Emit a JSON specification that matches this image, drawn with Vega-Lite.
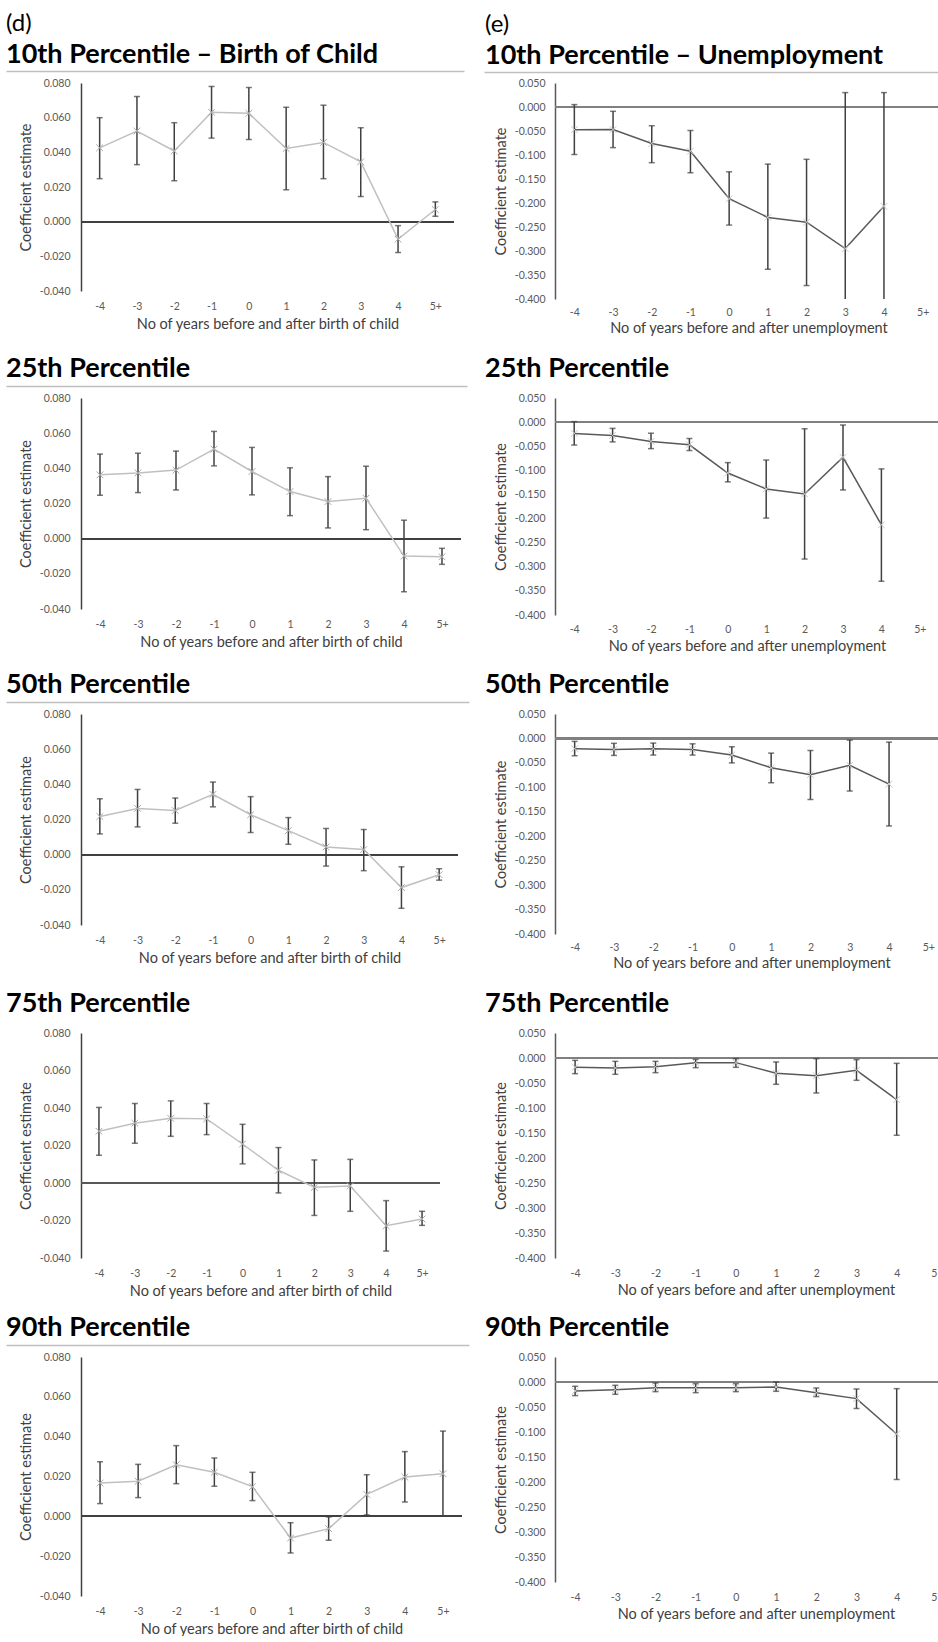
{
  "$schema": "https://vega.github.io/schema/vega-lite/v6.json",
  "background": "white",
  "padding": {"left": 6, "top": 12, "right": -22, "bottom": 0},
  "datasets": {
    "L1": [
      {"t": "-4", "est": 0.0426, "lo": 0.0248, "hi": 0.0600},
      {"t": "-3", "est": 0.0523, "lo": 0.0329, "hi": 0.0722},
      {"t": "-2", "est": 0.0408, "lo": 0.0236, "hi": 0.0571},
      {"t": "-1", "est": 0.0631, "lo": 0.0482, "hi": 0.0780},
      {"t": "0", "est": 0.0625, "lo": 0.0474, "hi": 0.0774},
      {"t": "1", "est": 0.0422, "lo": 0.0184, "hi": 0.0660},
      {"t": "2", "est": 0.0457, "lo": 0.0248, "hi": 0.0672},
      {"t": "3", "est": 0.0345, "lo": 0.0145, "hi": 0.0542},
      {"t": "4", "est": -0.0101, "lo": -0.0178, "hi": -0.0023},
      {"t": "5+", "est": 0.0070, "lo": 0.0031, "hi": 0.0114}
    ],
    "R1": [
      {"t": "-4", "est": -0.0472, "lo": -0.099, "hi": 0.005},
      {"t": "-3", "est": -0.047, "lo": -0.0846, "hi": -0.009},
      {"t": "-2", "est": -0.076, "lo": -0.116, "hi": -0.039},
      {"t": "-1", "est": -0.092, "lo": -0.137, "hi": -0.049},
      {"t": "0", "est": -0.191, "lo": -0.246, "hi": -0.135},
      {"t": "1", "est": -0.230, "lo": -0.338, "hi": -0.119},
      {"t": "2", "est": -0.240, "lo": -0.372, "hi": -0.109},
      {"t": "3", "est": -0.295, "lo": -0.42, "hi": 0.030},
      {"t": "4", "est": -0.207, "lo": -0.42, "hi": 0.030}
    ],
    "L2": [
      {"t": "-4", "est": 0.0363, "lo": 0.0247, "hi": 0.0481},
      {"t": "-3", "est": 0.0374, "lo": 0.0262, "hi": 0.0486},
      {"t": "-2", "est": 0.0390, "lo": 0.0277, "hi": 0.0498},
      {"t": "-1", "est": 0.0509, "lo": 0.0414, "hi": 0.0610},
      {"t": "0", "est": 0.0382, "lo": 0.0249, "hi": 0.0519},
      {"t": "1", "est": 0.0268, "lo": 0.0131, "hi": 0.0403},
      {"t": "2", "est": 0.0211, "lo": 0.0061, "hi": 0.0353},
      {"t": "3", "est": 0.0230, "lo": 0.0051, "hi": 0.0412},
      {"t": "4", "est": -0.0099, "lo": -0.0302, "hi": 0.0105},
      {"t": "5+", "est": -0.0103, "lo": -0.0146, "hi": -0.0055}
    ],
    "R2": [
      {"t": "-4", "est": -0.0234, "lo": -0.0476, "hi": 0.001},
      {"t": "-3", "est": -0.0276, "lo": -0.041, "hi": -0.013},
      {"t": "-2", "est": -0.040, "lo": -0.055, "hi": -0.023},
      {"t": "-1", "est": -0.047, "lo": -0.059, "hi": -0.034},
      {"t": "0", "est": -0.1055, "lo": -0.124, "hi": -0.084},
      {"t": "1", "est": -0.1386, "lo": -0.199, "hi": -0.0786},
      {"t": "2", "est": -0.149, "lo": -0.284, "hi": -0.0138},
      {"t": "3", "est": -0.073, "lo": -0.1407, "hi": -0.006},
      {"t": "4", "est": -0.213, "lo": -0.330, "hi": -0.097}
    ],
    "L3": [
      {"t": "-4", "est": 0.0217, "lo": 0.0118, "hi": 0.0318},
      {"t": "-3", "est": 0.0263, "lo": 0.0158, "hi": 0.0371},
      {"t": "-2", "est": 0.0251, "lo": 0.0179, "hi": 0.0322},
      {"t": "-1", "est": 0.0343, "lo": 0.0272, "hi": 0.0413},
      {"t": "0", "est": 0.0227, "lo": 0.0126, "hi": 0.0330},
      {"t": "1", "est": 0.0137, "lo": 0.0059, "hi": 0.0211},
      {"t": "2", "est": 0.0044, "lo": -0.0065, "hi": 0.0149},
      {"t": "3", "est": 0.0029, "lo": -0.0091, "hi": 0.0143},
      {"t": "4", "est": -0.0187, "lo": -0.0305, "hi": -0.0069},
      {"t": "5+", "est": -0.0114, "lo": -0.0145, "hi": -0.0080}
    ],
    "R3": [
      {"t": "-4", "est": -0.021, "lo": -0.0354, "hi": -0.006},
      {"t": "-3", "est": -0.0225, "lo": -0.0347, "hi": -0.010},
      {"t": "-2", "est": -0.021, "lo": -0.034, "hi": -0.0095},
      {"t": "-1", "est": -0.0225, "lo": -0.034, "hi": -0.011},
      {"t": "0", "est": -0.034, "lo": -0.050, "hi": -0.017},
      {"t": "1", "est": -0.060, "lo": -0.0906, "hi": -0.030},
      {"t": "2", "est": -0.074, "lo": -0.1247, "hi": -0.0245},
      {"t": "3", "est": -0.055, "lo": -0.1076, "hi": -0.0034},
      {"t": "4", "est": -0.0933, "lo": -0.179, "hi": -0.0075}
    ],
    "L4": [
      {"t": "-4", "est": 0.0276, "lo": 0.0148, "hi": 0.0403},
      {"t": "-3", "est": 0.0319, "lo": 0.0212, "hi": 0.0424},
      {"t": "-2", "est": 0.0345, "lo": 0.0249, "hi": 0.0438},
      {"t": "-1", "est": 0.0342, "lo": 0.0258, "hi": 0.0424},
      {"t": "0", "est": 0.0208, "lo": 0.0102, "hi": 0.0313},
      {"t": "1", "est": 0.0068, "lo": -0.0053, "hi": 0.0189},
      {"t": "2", "est": -0.0023, "lo": -0.0173, "hi": 0.0123},
      {"t": "3", "est": -0.0016, "lo": -0.0151, "hi": 0.0126},
      {"t": "4", "est": -0.0228, "lo": -0.0363, "hi": -0.0094},
      {"t": "5+", "est": -0.0192, "lo": -0.0226, "hi": -0.0151}
    ],
    "R4": [
      {"t": "-4", "est": -0.0186, "lo": -0.0313, "hi": -0.0047},
      {"t": "-3", "est": -0.020, "lo": -0.0326, "hi": -0.0067},
      {"t": "-2", "est": -0.0173, "lo": -0.0293, "hi": -0.0067},
      {"t": "-1", "est": -0.0093, "lo": -0.0193, "hi": -0.0027},
      {"t": "0", "est": -0.0093, "lo": -0.0186, "hi": -0.0013},
      {"t": "1", "est": -0.0306, "lo": -0.0526, "hi": -0.008},
      {"t": "2", "est": -0.0353, "lo": -0.070, "hi": -0.0013},
      {"t": "3", "est": -0.0246, "lo": -0.0446, "hi": -0.0033},
      {"t": "4", "est": -0.0832, "lo": -0.1545, "hi": -0.0107}
    ],
    "L5": [
      {"t": "-4", "est": 0.0167, "lo": 0.0064, "hi": 0.0274},
      {"t": "-3", "est": 0.0176, "lo": 0.0094, "hi": 0.0261},
      {"t": "-2", "est": 0.0259, "lo": 0.0164, "hi": 0.0355},
      {"t": "-1", "est": 0.0221, "lo": 0.0151, "hi": 0.0293},
      {"t": "0", "est": 0.0149, "lo": 0.0079, "hi": 0.0221},
      {"t": "1", "est": -0.0109, "lo": -0.0184, "hi": -0.0032},
      {"t": "2", "est": -0.0062, "lo": -0.0120, "hi": -0.0003},
      {"t": "3", "est": 0.0110, "lo": 0.0007, "hi": 0.0209},
      {"t": "4", "est": 0.0197, "lo": 0.0072, "hi": 0.0325},
      {"t": "5+", "est": 0.0214, "lo": 0.0003, "hi": 0.0428}
    ],
    "R5": [
      {"t": "-4", "est": -0.018, "lo": -0.0272, "hi": -0.0086},
      {"t": "-3", "est": -0.0153, "lo": -0.0246, "hi": -0.0066},
      {"t": "-2", "est": -0.0113, "lo": -0.0193, "hi": -0.002},
      {"t": "-1", "est": -0.0113, "lo": -0.0213, "hi": -0.0033},
      {"t": "0", "est": -0.0113, "lo": -0.0193, "hi": -0.0033},
      {"t": "1", "est": -0.010, "lo": -0.0186, "hi": 0.0},
      {"t": "2", "est": -0.0213, "lo": -0.0292, "hi": -0.012},
      {"t": "3", "est": -0.0332, "lo": -0.053, "hi": -0.014},
      {"t": "4", "est": -0.104, "lo": -0.195, "hi": -0.0133}
    ]
  },
  "columns": 2,
  "bounds": "flush",
  "align": "each",
  "spacing": {"row": 99, "column": 93},
  "concat": [
    {
      "width": 373, "height": 208,
      "title": {"text": "(d)", "subtitle": "10th Percentile – Birth of Child", "fontSize": 24, "fontWeight": "normal", "subtitleFont": "Lato", "subtitleFontSize": 27, "subtitleFontWeight": "bold", "subtitleColor": "#000000", "subtitlePadding": 6, "dx": -75, "offset": 3},
      "data": {"name": "L1"},
      "resolve": {"scale": {"x": "independent"}, "axis": {"x": "independent"}},
      "layer": [
        {"layer": [
          {"mark": {"type": "rule", "color": "#404040", "strokeWidth": 1.5}, "encoding": {"y": {"datum": 0, "type": "quantitative", "scale": {"domain": [-0.04, 0.08], "nice": false, "zero": false}, "axis": {"values": [-0.04, -0.02, 0, 0.02, 0.04, 0.06, 0.08], "format": ".3f", "labelExpr": "replace(datum.label, '\u2212', '-')", "title": "Coefficient estimate", "domain": true, "domainColor": "#404040", "domainWidth": 1.5, "labelPadding": 11, "titlePadding": 6}}}},
          {"mark": {"type": "rule", "color": "#404040", "strokeWidth": 1.5, "clip": true}, "encoding": {"x": {"field": "t", "type": "ordinal", "sort": null, "scale": {"type": "point", "padding": 0.5, "domain": ["-4", "-3", "-2", "-1", "0", "1", "2", "3", "4", "5+"]}, "axis": {"title": "No of years before and after birth of child", "domain": false, "ticks": false, "labelPadding": 10, "titlePadding": 6, "labelAngle": 0}}, "y": {"field": "lo", "type": "quantitative", "scale": {"domain": [-0.04, 0.08], "nice": false, "zero": false}, "axis": {"values": [-0.04, -0.02, 0, 0.02, 0.04, 0.06, 0.08], "format": ".3f", "labelExpr": "replace(datum.label, '\u2212', '-')", "title": "Coefficient estimate", "domain": true, "domainColor": "#404040", "domainWidth": 1.5, "labelPadding": 11, "titlePadding": 6}}, "y2": {"field": "hi"}}},
          {"mark": {"type": "tick", "color": "#404040", "size": 6, "thickness": 1.5, "orient": "horizontal", "clip": true}, "encoding": {"x": {"field": "t", "type": "ordinal", "sort": null}, "y": {"field": "lo", "type": "quantitative", "scale": {"domain": [-0.04, 0.08], "nice": false, "zero": false}, "axis": {"values": [-0.04, -0.02, 0, 0.02, 0.04, 0.06, 0.08], "format": ".3f", "labelExpr": "replace(datum.label, '\u2212', '-')", "title": "Coefficient estimate", "domain": true, "domainColor": "#404040", "domainWidth": 1.5, "labelPadding": 11, "titlePadding": 6}}}},
          {"mark": {"type": "tick", "color": "#404040", "size": 6, "thickness": 1.5, "orient": "horizontal", "clip": true}, "encoding": {"x": {"field": "t", "type": "ordinal", "sort": null}, "y": {"field": "hi", "type": "quantitative", "scale": {"domain": [-0.04, 0.08], "nice": false, "zero": false}, "axis": {"values": [-0.04, -0.02, 0, 0.02, 0.04, 0.06, 0.08], "format": ".3f", "labelExpr": "replace(datum.label, '\u2212', '-')", "title": "Coefficient estimate", "domain": true, "domainColor": "#404040", "domainWidth": 1.5, "labelPadding": 11, "titlePadding": 6}}}},
          {"mark": {"type": "line", "color": "#c0c0c0", "strokeWidth": 1.5}, "encoding": {"x": {"field": "t", "type": "ordinal", "sort": null}, "y": {"field": "est", "type": "quantitative", "scale": {"domain": [-0.04, 0.08], "nice": false, "zero": false}, "axis": {"values": [-0.04, -0.02, 0, 0.02, 0.04, 0.06, 0.08], "format": ".3f", "labelExpr": "replace(datum.label, '\u2212', '-')", "title": "Coefficient estimate", "domain": true, "domainColor": "#404040", "domainWidth": 1.5, "labelPadding": 11, "titlePadding": 6}}}},
          {"mark": {"type": "point", "shape": "M-1,-1L1,1M-1,1L1,-1", "filled": false, "color": "#a8a8a8", "size": 45, "strokeWidth": 1, "opacity": 1}, "encoding": {"x": {"field": "t", "type": "ordinal", "sort": null}, "y": {"field": "est", "type": "quantitative", "scale": {"domain": [-0.04, 0.08], "nice": false, "zero": false}, "axis": {"values": [-0.04, -0.02, 0, 0.02, 0.04, 0.06, 0.08], "format": ".3f", "labelExpr": "replace(datum.label, '\u2212', '-')", "title": "Coefficient estimate", "domain": true, "domainColor": "#404040", "domainWidth": 1.5, "labelPadding": 11, "titlePadding": 6}}}}
        ]},
        {"data": {"values": [{"u": 0.5}]}, "mark": {"type": "point", "opacity": 0}, "encoding": {"x": {"field": "u", "type": "quantitative", "scale": {"domain": [0, 1], "range": [-75, 383]}, "axis": {"orient": "top", "domain": true, "domainColor": "#bfbfbf", "domainWidth": 1.5, "labels": false, "ticks": false, "grid": false, "title": null, "offset": 12}}}}
      ]
    },
    {
      "width": 387, "height": 216,
      "title": {"text": "(e)", "subtitle": "10th Percentile – Unemployment", "fontSize": 24, "fontWeight": "normal", "subtitleFont": "Lato", "subtitleFontSize": 27, "subtitleFontWeight": "bold", "subtitleColor": "#000000", "subtitlePadding": 6, "dx": -70, "offset": 3},
      "data": {"name": "R1"},
      "resolve": {"scale": {"x": "independent"}, "axis": {"x": "independent"}},
      "layer": [
        {"layer": [
          {"mark": {"type": "rule", "color": "#808080", "strokeWidth": 2}, "encoding": {"y": {"datum": 0, "type": "quantitative", "scale": {"domain": [-0.4, 0.05], "nice": false, "zero": false}, "axis": {"values": [-0.4, -0.35, -0.3, -0.25, -0.2, -0.15, -0.1, -0.05, 0, 0.05], "format": ".3f", "labelExpr": "replace(datum.label, '\u2212', '-')", "title": "Coefficient estimate", "domain": true, "domainColor": "#595959", "domainWidth": 1.5, "labelPadding": 10, "titlePadding": 6}}}},
          {"mark": {"type": "rule", "color": "#404040", "strokeWidth": 1.5, "clip": true}, "encoding": {"x": {"field": "t", "type": "ordinal", "sort": null, "scale": {"type": "point", "padding": 0.5, "domain": ["-4", "-3", "-2", "-1", "0", "1", "2", "3", "4", "5+"]}, "axis": {"title": "No of years before and after unemployment", "domain": false, "ticks": false, "labelPadding": 8, "titlePadding": 4, "labelAngle": 0}}, "y": {"field": "lo", "type": "quantitative", "scale": {"domain": [-0.4, 0.05], "nice": false, "zero": false}, "axis": {"values": [-0.4, -0.35, -0.3, -0.25, -0.2, -0.15, -0.1, -0.05, 0, 0.05], "format": ".3f", "labelExpr": "replace(datum.label, '\u2212', '-')", "title": "Coefficient estimate", "domain": true, "domainColor": "#595959", "domainWidth": 1.5, "labelPadding": 10, "titlePadding": 6}}, "y2": {"field": "hi"}}},
          {"mark": {"type": "tick", "color": "#404040", "size": 6, "thickness": 1.5, "orient": "horizontal", "clip": true}, "encoding": {"x": {"field": "t", "type": "ordinal", "sort": null}, "y": {"field": "lo", "type": "quantitative", "scale": {"domain": [-0.4, 0.05], "nice": false, "zero": false}, "axis": {"values": [-0.4, -0.35, -0.3, -0.25, -0.2, -0.15, -0.1, -0.05, 0, 0.05], "format": ".3f", "labelExpr": "replace(datum.label, '\u2212', '-')", "title": "Coefficient estimate", "domain": true, "domainColor": "#595959", "domainWidth": 1.5, "labelPadding": 10, "titlePadding": 6}}}},
          {"mark": {"type": "tick", "color": "#404040", "size": 6, "thickness": 1.5, "orient": "horizontal", "clip": true}, "encoding": {"x": {"field": "t", "type": "ordinal", "sort": null}, "y": {"field": "hi", "type": "quantitative", "scale": {"domain": [-0.4, 0.05], "nice": false, "zero": false}, "axis": {"values": [-0.4, -0.35, -0.3, -0.25, -0.2, -0.15, -0.1, -0.05, 0, 0.05], "format": ".3f", "labelExpr": "replace(datum.label, '\u2212', '-')", "title": "Coefficient estimate", "domain": true, "domainColor": "#595959", "domainWidth": 1.5, "labelPadding": 10, "titlePadding": 6}}}},
          {"mark": {"type": "line", "color": "#595959", "strokeWidth": 1.5}, "encoding": {"x": {"field": "t", "type": "ordinal", "sort": null}, "y": {"field": "est", "type": "quantitative", "scale": {"domain": [-0.4, 0.05], "nice": false, "zero": false}, "axis": {"values": [-0.4, -0.35, -0.3, -0.25, -0.2, -0.15, -0.1, -0.05, 0, 0.05], "format": ".3f", "labelExpr": "replace(datum.label, '\u2212', '-')", "title": "Coefficient estimate", "domain": true, "domainColor": "#595959", "domainWidth": 1.5, "labelPadding": 10, "titlePadding": 6}}}},
          {"mark": {"type": "point", "shape": "M-1,-1L1,1M-1,1L1,-1", "filled": false, "color": "#c8c8c8", "size": 45, "strokeWidth": 1, "opacity": 1}, "encoding": {"x": {"field": "t", "type": "ordinal", "sort": null}, "y": {"field": "est", "type": "quantitative", "scale": {"domain": [-0.4, 0.05], "nice": false, "zero": false}, "axis": {"values": [-0.4, -0.35, -0.3, -0.25, -0.2, -0.15, -0.1, -0.05, 0, 0.05], "format": ".3f", "labelExpr": "replace(datum.label, '\u2212', '-')", "title": "Coefficient estimate", "domain": true, "domainColor": "#595959", "domainWidth": 1.5, "labelPadding": 10, "titlePadding": 6}}}}
        ]},
        {"data": {"values": [{"u": 0.5}]}, "mark": {"type": "point", "opacity": 0}, "encoding": {"x": {"field": "u", "type": "quantitative", "scale": {"domain": [0, 1], "range": [-71, 400]}, "axis": {"orient": "top", "domain": true, "domainColor": "#bfbfbf", "domainWidth": 1.5, "labels": false, "ticks": false, "grid": false, "title": null, "offset": 11}}}}
      ]
    },
    {
      "width": 380, "height": 211,
      "title": {"text": "25th Percentile", "dx": -75, "offset": 3},
      "data": {"name": "L2"},
      "resolve": {"scale": {"x": "independent"}, "axis": {"x": "independent"}},
      "layer": [
        {"layer": [
          {"mark": {"type": "rule", "color": "#404040", "strokeWidth": 1.5}, "encoding": {"y": {"datum": 0, "type": "quantitative", "scale": {"domain": [-0.04, 0.08], "nice": false, "zero": false}, "axis": {"values": [-0.04, -0.02, 0, 0.02, 0.04, 0.06, 0.08], "format": ".3f", "labelExpr": "replace(datum.label, '\u2212', '-')", "title": "Coefficient estimate", "domain": true, "domainColor": "#404040", "domainWidth": 1.5, "labelPadding": 11, "titlePadding": 6}}}},
          {"mark": {"type": "rule", "color": "#404040", "strokeWidth": 1.5, "clip": true}, "encoding": {"x": {"field": "t", "type": "ordinal", "sort": null, "scale": {"type": "point", "padding": 0.5, "domain": ["-4", "-3", "-2", "-1", "0", "1", "2", "3", "4", "5+"]}, "axis": {"title": "No of years before and after birth of child", "domain": false, "ticks": false, "labelPadding": 10, "titlePadding": 6, "labelAngle": 0}}, "y": {"field": "lo", "type": "quantitative", "scale": {"domain": [-0.04, 0.08], "nice": false, "zero": false}, "axis": {"values": [-0.04, -0.02, 0, 0.02, 0.04, 0.06, 0.08], "format": ".3f", "labelExpr": "replace(datum.label, '\u2212', '-')", "title": "Coefficient estimate", "domain": true, "domainColor": "#404040", "domainWidth": 1.5, "labelPadding": 11, "titlePadding": 6}}, "y2": {"field": "hi"}}},
          {"mark": {"type": "tick", "color": "#404040", "size": 6, "thickness": 1.5, "orient": "horizontal", "clip": true}, "encoding": {"x": {"field": "t", "type": "ordinal", "sort": null}, "y": {"field": "lo", "type": "quantitative", "scale": {"domain": [-0.04, 0.08], "nice": false, "zero": false}, "axis": {"values": [-0.04, -0.02, 0, 0.02, 0.04, 0.06, 0.08], "format": ".3f", "labelExpr": "replace(datum.label, '\u2212', '-')", "title": "Coefficient estimate", "domain": true, "domainColor": "#404040", "domainWidth": 1.5, "labelPadding": 11, "titlePadding": 6}}}},
          {"mark": {"type": "tick", "color": "#404040", "size": 6, "thickness": 1.5, "orient": "horizontal", "clip": true}, "encoding": {"x": {"field": "t", "type": "ordinal", "sort": null}, "y": {"field": "hi", "type": "quantitative", "scale": {"domain": [-0.04, 0.08], "nice": false, "zero": false}, "axis": {"values": [-0.04, -0.02, 0, 0.02, 0.04, 0.06, 0.08], "format": ".3f", "labelExpr": "replace(datum.label, '\u2212', '-')", "title": "Coefficient estimate", "domain": true, "domainColor": "#404040", "domainWidth": 1.5, "labelPadding": 11, "titlePadding": 6}}}},
          {"mark": {"type": "line", "color": "#c0c0c0", "strokeWidth": 1.5}, "encoding": {"x": {"field": "t", "type": "ordinal", "sort": null}, "y": {"field": "est", "type": "quantitative", "scale": {"domain": [-0.04, 0.08], "nice": false, "zero": false}, "axis": {"values": [-0.04, -0.02, 0, 0.02, 0.04, 0.06, 0.08], "format": ".3f", "labelExpr": "replace(datum.label, '\u2212', '-')", "title": "Coefficient estimate", "domain": true, "domainColor": "#404040", "domainWidth": 1.5, "labelPadding": 11, "titlePadding": 6}}}},
          {"mark": {"type": "point", "shape": "M-1,-1L1,1M-1,1L1,-1", "filled": false, "color": "#a8a8a8", "size": 45, "strokeWidth": 1, "opacity": 1}, "encoding": {"x": {"field": "t", "type": "ordinal", "sort": null}, "y": {"field": "est", "type": "quantitative", "scale": {"domain": [-0.04, 0.08], "nice": false, "zero": false}, "axis": {"values": [-0.04, -0.02, 0, 0.02, 0.04, 0.06, 0.08], "format": ".3f", "labelExpr": "replace(datum.label, '\u2212', '-')", "title": "Coefficient estimate", "domain": true, "domainColor": "#404040", "domainWidth": 1.5, "labelPadding": 11, "titlePadding": 6}}}}
        ]},
        {"data": {"values": [{"u": 0.5}]}, "mark": {"type": "point", "opacity": 0}, "encoding": {"x": {"field": "u", "type": "quantitative", "scale": {"domain": [0, 1], "range": [-75, 386]}, "axis": {"orient": "top", "domain": true, "domainColor": "#bfbfbf", "domainWidth": 1.5, "labels": false, "ticks": false, "grid": false, "title": null, "offset": 12}}}}
      ]
    },
    {
      "width": 384, "height": 217,
      "title": {"text": "25th Percentile", "dx": -70, "offset": 3},
      "data": {"name": "R2"},
      "resolve": {"scale": {"x": "independent"}, "axis": {"x": "independent"}},
      "layer": [
        {"layer": [
          {"mark": {"type": "rule", "color": "#808080", "strokeWidth": 2}, "encoding": {"y": {"datum": 0, "type": "quantitative", "scale": {"domain": [-0.4, 0.05], "nice": false, "zero": false}, "axis": {"values": [-0.4, -0.35, -0.3, -0.25, -0.2, -0.15, -0.1, -0.05, 0, 0.05], "format": ".3f", "labelExpr": "replace(datum.label, '\u2212', '-')", "title": "Coefficient estimate", "domain": true, "domainColor": "#595959", "domainWidth": 1.5, "labelPadding": 10, "titlePadding": 6}}}},
          {"mark": {"type": "rule", "color": "#404040", "strokeWidth": 1.5, "clip": true}, "encoding": {"x": {"field": "t", "type": "ordinal", "sort": null, "scale": {"type": "point", "padding": 0.5, "domain": ["-4", "-3", "-2", "-1", "0", "1", "2", "3", "4", "5+"]}, "axis": {"title": "No of years before and after unemployment", "domain": false, "ticks": false, "labelPadding": 9, "titlePadding": 5, "labelAngle": 0}}, "y": {"field": "lo", "type": "quantitative", "scale": {"domain": [-0.4, 0.05], "nice": false, "zero": false}, "axis": {"values": [-0.4, -0.35, -0.3, -0.25, -0.2, -0.15, -0.1, -0.05, 0, 0.05], "format": ".3f", "labelExpr": "replace(datum.label, '\u2212', '-')", "title": "Coefficient estimate", "domain": true, "domainColor": "#595959", "domainWidth": 1.5, "labelPadding": 10, "titlePadding": 6}}, "y2": {"field": "hi"}}},
          {"mark": {"type": "tick", "color": "#404040", "size": 6, "thickness": 1.5, "orient": "horizontal", "clip": true}, "encoding": {"x": {"field": "t", "type": "ordinal", "sort": null}, "y": {"field": "lo", "type": "quantitative", "scale": {"domain": [-0.4, 0.05], "nice": false, "zero": false}, "axis": {"values": [-0.4, -0.35, -0.3, -0.25, -0.2, -0.15, -0.1, -0.05, 0, 0.05], "format": ".3f", "labelExpr": "replace(datum.label, '\u2212', '-')", "title": "Coefficient estimate", "domain": true, "domainColor": "#595959", "domainWidth": 1.5, "labelPadding": 10, "titlePadding": 6}}}},
          {"mark": {"type": "tick", "color": "#404040", "size": 6, "thickness": 1.5, "orient": "horizontal", "clip": true}, "encoding": {"x": {"field": "t", "type": "ordinal", "sort": null}, "y": {"field": "hi", "type": "quantitative", "scale": {"domain": [-0.4, 0.05], "nice": false, "zero": false}, "axis": {"values": [-0.4, -0.35, -0.3, -0.25, -0.2, -0.15, -0.1, -0.05, 0, 0.05], "format": ".3f", "labelExpr": "replace(datum.label, '\u2212', '-')", "title": "Coefficient estimate", "domain": true, "domainColor": "#595959", "domainWidth": 1.5, "labelPadding": 10, "titlePadding": 6}}}},
          {"mark": {"type": "line", "color": "#595959", "strokeWidth": 1.5}, "encoding": {"x": {"field": "t", "type": "ordinal", "sort": null}, "y": {"field": "est", "type": "quantitative", "scale": {"domain": [-0.4, 0.05], "nice": false, "zero": false}, "axis": {"values": [-0.4, -0.35, -0.3, -0.25, -0.2, -0.15, -0.1, -0.05, 0, 0.05], "format": ".3f", "labelExpr": "replace(datum.label, '\u2212', '-')", "title": "Coefficient estimate", "domain": true, "domainColor": "#595959", "domainWidth": 1.5, "labelPadding": 10, "titlePadding": 6}}}},
          {"mark": {"type": "point", "shape": "M-1,-1L1,1M-1,1L1,-1", "filled": false, "color": "#c8c8c8", "size": 45, "strokeWidth": 1, "opacity": 1}, "encoding": {"x": {"field": "t", "type": "ordinal", "sort": null}, "y": {"field": "est", "type": "quantitative", "scale": {"domain": [-0.4, 0.05], "nice": false, "zero": false}, "axis": {"values": [-0.4, -0.35, -0.3, -0.25, -0.2, -0.15, -0.1, -0.05, 0, 0.05], "format": ".3f", "labelExpr": "replace(datum.label, '\u2212', '-')", "title": "Coefficient estimate", "domain": true, "domainColor": "#595959", "domainWidth": 1.5, "labelPadding": 10, "titlePadding": 6}}}}
        ]},
        {"data": {"values": [{"u": 0.5}]}, "mark": {"type": "point", "opacity": 0}, "encoding": {"x": {"field": "u", "type": "quantitative", "scale": {"domain": [0, 1], "range": [-71, 400]}, "axis": {"orient": "top", "domain": true, "domainOpacity": 0, "domainWidth": 1.5, "labels": false, "ticks": false, "grid": false, "title": null, "offset": 12}}}}
      ]
    },
    {
      "width": 377, "height": 211,
      "title": {"text": "50th Percentile", "dx": -75, "offset": 3},
      "data": {"name": "L3"},
      "resolve": {"scale": {"x": "independent"}, "axis": {"x": "independent"}},
      "layer": [
        {"layer": [
          {"mark": {"type": "rule", "color": "#404040", "strokeWidth": 1.5}, "encoding": {"y": {"datum": 0, "type": "quantitative", "scale": {"domain": [-0.04, 0.08], "nice": false, "zero": false}, "axis": {"values": [-0.04, -0.02, 0, 0.02, 0.04, 0.06, 0.08], "format": ".3f", "labelExpr": "replace(datum.label, '\u2212', '-')", "title": "Coefficient estimate", "domain": true, "domainColor": "#404040", "domainWidth": 1.5, "labelPadding": 11, "titlePadding": 6}}}},
          {"mark": {"type": "rule", "color": "#404040", "strokeWidth": 1.5, "clip": true}, "encoding": {"x": {"field": "t", "type": "ordinal", "sort": null, "scale": {"type": "point", "padding": 0.5, "domain": ["-4", "-3", "-2", "-1", "0", "1", "2", "3", "4", "5+"]}, "axis": {"title": "No of years before and after birth of child", "domain": false, "ticks": false, "labelPadding": 10, "titlePadding": 6, "labelAngle": 0}}, "y": {"field": "lo", "type": "quantitative", "scale": {"domain": [-0.04, 0.08], "nice": false, "zero": false}, "axis": {"values": [-0.04, -0.02, 0, 0.02, 0.04, 0.06, 0.08], "format": ".3f", "labelExpr": "replace(datum.label, '\u2212', '-')", "title": "Coefficient estimate", "domain": true, "domainColor": "#404040", "domainWidth": 1.5, "labelPadding": 11, "titlePadding": 6}}, "y2": {"field": "hi"}}},
          {"mark": {"type": "tick", "color": "#404040", "size": 6, "thickness": 1.5, "orient": "horizontal", "clip": true}, "encoding": {"x": {"field": "t", "type": "ordinal", "sort": null}, "y": {"field": "lo", "type": "quantitative", "scale": {"domain": [-0.04, 0.08], "nice": false, "zero": false}, "axis": {"values": [-0.04, -0.02, 0, 0.02, 0.04, 0.06, 0.08], "format": ".3f", "labelExpr": "replace(datum.label, '\u2212', '-')", "title": "Coefficient estimate", "domain": true, "domainColor": "#404040", "domainWidth": 1.5, "labelPadding": 11, "titlePadding": 6}}}},
          {"mark": {"type": "tick", "color": "#404040", "size": 6, "thickness": 1.5, "orient": "horizontal", "clip": true}, "encoding": {"x": {"field": "t", "type": "ordinal", "sort": null}, "y": {"field": "hi", "type": "quantitative", "scale": {"domain": [-0.04, 0.08], "nice": false, "zero": false}, "axis": {"values": [-0.04, -0.02, 0, 0.02, 0.04, 0.06, 0.08], "format": ".3f", "labelExpr": "replace(datum.label, '\u2212', '-')", "title": "Coefficient estimate", "domain": true, "domainColor": "#404040", "domainWidth": 1.5, "labelPadding": 11, "titlePadding": 6}}}},
          {"mark": {"type": "line", "color": "#c0c0c0", "strokeWidth": 1.5}, "encoding": {"x": {"field": "t", "type": "ordinal", "sort": null}, "y": {"field": "est", "type": "quantitative", "scale": {"domain": [-0.04, 0.08], "nice": false, "zero": false}, "axis": {"values": [-0.04, -0.02, 0, 0.02, 0.04, 0.06, 0.08], "format": ".3f", "labelExpr": "replace(datum.label, '\u2212', '-')", "title": "Coefficient estimate", "domain": true, "domainColor": "#404040", "domainWidth": 1.5, "labelPadding": 11, "titlePadding": 6}}}},
          {"mark": {"type": "point", "shape": "M-1,-1L1,1M-1,1L1,-1", "filled": false, "color": "#a8a8a8", "size": 45, "strokeWidth": 1, "opacity": 1}, "encoding": {"x": {"field": "t", "type": "ordinal", "sort": null}, "y": {"field": "est", "type": "quantitative", "scale": {"domain": [-0.04, 0.08], "nice": false, "zero": false}, "axis": {"values": [-0.04, -0.02, 0, 0.02, 0.04, 0.06, 0.08], "format": ".3f", "labelExpr": "replace(datum.label, '\u2212', '-')", "title": "Coefficient estimate", "domain": true, "domainColor": "#404040", "domainWidth": 1.5, "labelPadding": 11, "titlePadding": 6}}}}
        ]},
        {"data": {"values": [{"u": 0.5}]}, "mark": {"type": "point", "opacity": 0}, "encoding": {"x": {"field": "u", "type": "quantitative", "scale": {"domain": [0, 1], "range": [-75, 388]}, "axis": {"orient": "top", "domain": true, "domainColor": "#bfbfbf", "domainWidth": 1.5, "labels": false, "ticks": false, "grid": false, "title": null, "offset": 12}}}}
      ]
    },
    {
      "width": 393, "height": 220,
      "title": {"text": "50th Percentile", "dx": -70, "offset": 3},
      "data": {"name": "R3"},
      "resolve": {"scale": {"x": "independent"}, "axis": {"x": "independent"}},
      "layer": [
        {"layer": [
          {"mark": {"type": "rule", "color": "#808080", "strokeWidth": 2}, "encoding": {"y": {"datum": 0, "type": "quantitative", "scale": {"domain": [-0.4, 0.05], "nice": false, "zero": false}, "axis": {"values": [-0.4, -0.35, -0.3, -0.25, -0.2, -0.15, -0.1, -0.05, 0, 0.05], "format": ".3f", "labelExpr": "replace(datum.label, '\u2212', '-')", "title": "Coefficient estimate", "domain": true, "domainColor": "#595959", "domainWidth": 1.5, "labelPadding": 10, "titlePadding": 6}}}},
          {"mark": {"type": "rule", "color": "#404040", "strokeWidth": 1.5, "clip": true}, "encoding": {"x": {"field": "t", "type": "ordinal", "sort": null, "scale": {"type": "point", "padding": 0.5, "domain": ["-4", "-3", "-2", "-1", "0", "1", "2", "3", "4", "5+"]}, "axis": {"title": "No of years before and after unemployment", "domain": false, "ticks": false, "labelPadding": 8, "titlePadding": 4, "labelAngle": 0}}, "y": {"field": "lo", "type": "quantitative", "scale": {"domain": [-0.4, 0.05], "nice": false, "zero": false}, "axis": {"values": [-0.4, -0.35, -0.3, -0.25, -0.2, -0.15, -0.1, -0.05, 0, 0.05], "format": ".3f", "labelExpr": "replace(datum.label, '\u2212', '-')", "title": "Coefficient estimate", "domain": true, "domainColor": "#595959", "domainWidth": 1.5, "labelPadding": 10, "titlePadding": 6}}, "y2": {"field": "hi"}}},
          {"mark": {"type": "tick", "color": "#404040", "size": 6, "thickness": 1.5, "orient": "horizontal", "clip": true}, "encoding": {"x": {"field": "t", "type": "ordinal", "sort": null}, "y": {"field": "lo", "type": "quantitative", "scale": {"domain": [-0.4, 0.05], "nice": false, "zero": false}, "axis": {"values": [-0.4, -0.35, -0.3, -0.25, -0.2, -0.15, -0.1, -0.05, 0, 0.05], "format": ".3f", "labelExpr": "replace(datum.label, '\u2212', '-')", "title": "Coefficient estimate", "domain": true, "domainColor": "#595959", "domainWidth": 1.5, "labelPadding": 10, "titlePadding": 6}}}},
          {"mark": {"type": "tick", "color": "#404040", "size": 6, "thickness": 1.5, "orient": "horizontal", "clip": true}, "encoding": {"x": {"field": "t", "type": "ordinal", "sort": null}, "y": {"field": "hi", "type": "quantitative", "scale": {"domain": [-0.4, 0.05], "nice": false, "zero": false}, "axis": {"values": [-0.4, -0.35, -0.3, -0.25, -0.2, -0.15, -0.1, -0.05, 0, 0.05], "format": ".3f", "labelExpr": "replace(datum.label, '\u2212', '-')", "title": "Coefficient estimate", "domain": true, "domainColor": "#595959", "domainWidth": 1.5, "labelPadding": 10, "titlePadding": 6}}}},
          {"mark": {"type": "line", "color": "#595959", "strokeWidth": 1.5}, "encoding": {"x": {"field": "t", "type": "ordinal", "sort": null}, "y": {"field": "est", "type": "quantitative", "scale": {"domain": [-0.4, 0.05], "nice": false, "zero": false}, "axis": {"values": [-0.4, -0.35, -0.3, -0.25, -0.2, -0.15, -0.1, -0.05, 0, 0.05], "format": ".3f", "labelExpr": "replace(datum.label, '\u2212', '-')", "title": "Coefficient estimate", "domain": true, "domainColor": "#595959", "domainWidth": 1.5, "labelPadding": 10, "titlePadding": 6}}}},
          {"mark": {"type": "point", "shape": "M-1,-1L1,1M-1,1L1,-1", "filled": false, "color": "#c8c8c8", "size": 45, "strokeWidth": 1, "opacity": 1}, "encoding": {"x": {"field": "t", "type": "ordinal", "sort": null}, "y": {"field": "est", "type": "quantitative", "scale": {"domain": [-0.4, 0.05], "nice": false, "zero": false}, "axis": {"values": [-0.4, -0.35, -0.3, -0.25, -0.2, -0.15, -0.1, -0.05, 0, 0.05], "format": ".3f", "labelExpr": "replace(datum.label, '\u2212', '-')", "title": "Coefficient estimate", "domain": true, "domainColor": "#595959", "domainWidth": 1.5, "labelPadding": 10, "titlePadding": 6}}}}
        ]},
        {"data": {"values": [{"u": 0.5}]}, "mark": {"type": "point", "opacity": 0}, "encoding": {"x": {"field": "u", "type": "quantitative", "scale": {"domain": [0, 1], "range": [-71, 400]}, "axis": {"orient": "top", "domain": true, "domainOpacity": 0, "domainWidth": 1.5, "labels": false, "ticks": false, "grid": false, "title": null, "offset": 12}}}}
      ]
    },
    {
      "width": 359, "height": 225,
      "title": {"text": "75th Percentile", "dx": -75, "offset": 3},
      "data": {"name": "L4"},
      "resolve": {"scale": {"x": "independent"}, "axis": {"x": "independent"}},
      "layer": [
        {"layer": [
          {"mark": {"type": "rule", "color": "#595959", "strokeWidth": 1}, "encoding": {"y": {"datum": 0, "type": "quantitative", "scale": {"domain": [-0.04, 0.08], "nice": false, "zero": false}, "axis": {"values": [-0.04, -0.02, 0, 0.02, 0.04, 0.06, 0.08], "format": ".3f", "labelExpr": "replace(datum.label, '\u2212', '-')", "title": "Coefficient estimate", "domain": true, "domainColor": "#404040", "domainWidth": 1.5, "labelPadding": 11, "titlePadding": 6}}}},
          {"mark": {"type": "rule", "color": "#404040", "strokeWidth": 1.5, "clip": true}, "encoding": {"x": {"field": "t", "type": "ordinal", "sort": null, "scale": {"type": "point", "padding": 0.5, "domain": ["-4", "-3", "-2", "-1", "0", "1", "2", "3", "4", "5+"]}, "axis": {"title": "No of years before and after birth of child", "domain": false, "ticks": false, "labelPadding": 10, "titlePadding": 6, "labelAngle": 0}}, "y": {"field": "lo", "type": "quantitative", "scale": {"domain": [-0.04, 0.08], "nice": false, "zero": false}, "axis": {"values": [-0.04, -0.02, 0, 0.02, 0.04, 0.06, 0.08], "format": ".3f", "labelExpr": "replace(datum.label, '\u2212', '-')", "title": "Coefficient estimate", "domain": true, "domainColor": "#404040", "domainWidth": 1.5, "labelPadding": 11, "titlePadding": 6}}, "y2": {"field": "hi"}}},
          {"mark": {"type": "tick", "color": "#404040", "size": 6, "thickness": 1.5, "orient": "horizontal", "clip": true}, "encoding": {"x": {"field": "t", "type": "ordinal", "sort": null}, "y": {"field": "lo", "type": "quantitative", "scale": {"domain": [-0.04, 0.08], "nice": false, "zero": false}, "axis": {"values": [-0.04, -0.02, 0, 0.02, 0.04, 0.06, 0.08], "format": ".3f", "labelExpr": "replace(datum.label, '\u2212', '-')", "title": "Coefficient estimate", "domain": true, "domainColor": "#404040", "domainWidth": 1.5, "labelPadding": 11, "titlePadding": 6}}}},
          {"mark": {"type": "tick", "color": "#404040", "size": 6, "thickness": 1.5, "orient": "horizontal", "clip": true}, "encoding": {"x": {"field": "t", "type": "ordinal", "sort": null}, "y": {"field": "hi", "type": "quantitative", "scale": {"domain": [-0.04, 0.08], "nice": false, "zero": false}, "axis": {"values": [-0.04, -0.02, 0, 0.02, 0.04, 0.06, 0.08], "format": ".3f", "labelExpr": "replace(datum.label, '\u2212', '-')", "title": "Coefficient estimate", "domain": true, "domainColor": "#404040", "domainWidth": 1.5, "labelPadding": 11, "titlePadding": 6}}}},
          {"mark": {"type": "line", "color": "#c0c0c0", "strokeWidth": 1.5}, "encoding": {"x": {"field": "t", "type": "ordinal", "sort": null}, "y": {"field": "est", "type": "quantitative", "scale": {"domain": [-0.04, 0.08], "nice": false, "zero": false}, "axis": {"values": [-0.04, -0.02, 0, 0.02, 0.04, 0.06, 0.08], "format": ".3f", "labelExpr": "replace(datum.label, '\u2212', '-')", "title": "Coefficient estimate", "domain": true, "domainColor": "#404040", "domainWidth": 1.5, "labelPadding": 11, "titlePadding": 6}}}},
          {"mark": {"type": "point", "shape": "M-1,-1L1,1M-1,1L1,-1", "filled": false, "color": "#a8a8a8", "size": 45, "strokeWidth": 1, "opacity": 1}, "encoding": {"x": {"field": "t", "type": "ordinal", "sort": null}, "y": {"field": "est", "type": "quantitative", "scale": {"domain": [-0.04, 0.08], "nice": false, "zero": false}, "axis": {"values": [-0.04, -0.02, 0, 0.02, 0.04, 0.06, 0.08], "format": ".3f", "labelExpr": "replace(datum.label, '\u2212', '-')", "title": "Coefficient estimate", "domain": true, "domainColor": "#404040", "domainWidth": 1.5, "labelPadding": 11, "titlePadding": 6}}}}
        ]},
        {"data": {"values": [{"u": 0.5}]}, "mark": {"type": "point", "opacity": 0}, "encoding": {"x": {"field": "u", "type": "quantitative", "scale": {"domain": [0, 1], "range": [-75, 385]}, "axis": {"orient": "top", "domain": true, "domainOpacity": 0, "domainWidth": 1.5, "labels": false, "ticks": false, "grid": false, "title": null, "offset": 12}}}}
      ]
    },
    {
      "width": 402, "height": 225,
      "title": {"text": "75th Percentile", "dx": -70, "offset": 3},
      "data": {"name": "R4"},
      "resolve": {"scale": {"x": "independent"}, "axis": {"x": "independent"}},
      "layer": [
        {"layer": [
          {"mark": {"type": "rule", "color": "#808080", "strokeWidth": 2}, "encoding": {"y": {"datum": 0, "type": "quantitative", "scale": {"domain": [-0.4, 0.05], "nice": false, "zero": false}, "axis": {"values": [-0.4, -0.35, -0.3, -0.25, -0.2, -0.15, -0.1, -0.05, 0, 0.05], "format": ".3f", "labelExpr": "replace(datum.label, '\u2212', '-')", "title": "Coefficient estimate", "domain": true, "domainColor": "#595959", "domainWidth": 1.5, "labelPadding": 10, "titlePadding": 6}}}},
          {"mark": {"type": "rule", "color": "#404040", "strokeWidth": 1.5, "clip": true}, "encoding": {"x": {"field": "t", "type": "ordinal", "sort": null, "scale": {"type": "point", "padding": 0.5, "domain": ["-4", "-3", "-2", "-1", "0", "1", "2", "3", "4", "5+"]}, "axis": {"title": "No of years before and after unemployment", "domain": false, "ticks": false, "labelPadding": 10, "titlePadding": 5, "labelAngle": 0}}, "y": {"field": "lo", "type": "quantitative", "scale": {"domain": [-0.4, 0.05], "nice": false, "zero": false}, "axis": {"values": [-0.4, -0.35, -0.3, -0.25, -0.2, -0.15, -0.1, -0.05, 0, 0.05], "format": ".3f", "labelExpr": "replace(datum.label, '\u2212', '-')", "title": "Coefficient estimate", "domain": true, "domainColor": "#595959", "domainWidth": 1.5, "labelPadding": 10, "titlePadding": 6}}, "y2": {"field": "hi"}}},
          {"mark": {"type": "tick", "color": "#404040", "size": 6, "thickness": 1.5, "orient": "horizontal", "clip": true}, "encoding": {"x": {"field": "t", "type": "ordinal", "sort": null}, "y": {"field": "lo", "type": "quantitative", "scale": {"domain": [-0.4, 0.05], "nice": false, "zero": false}, "axis": {"values": [-0.4, -0.35, -0.3, -0.25, -0.2, -0.15, -0.1, -0.05, 0, 0.05], "format": ".3f", "labelExpr": "replace(datum.label, '\u2212', '-')", "title": "Coefficient estimate", "domain": true, "domainColor": "#595959", "domainWidth": 1.5, "labelPadding": 10, "titlePadding": 6}}}},
          {"mark": {"type": "tick", "color": "#404040", "size": 6, "thickness": 1.5, "orient": "horizontal", "clip": true}, "encoding": {"x": {"field": "t", "type": "ordinal", "sort": null}, "y": {"field": "hi", "type": "quantitative", "scale": {"domain": [-0.4, 0.05], "nice": false, "zero": false}, "axis": {"values": [-0.4, -0.35, -0.3, -0.25, -0.2, -0.15, -0.1, -0.05, 0, 0.05], "format": ".3f", "labelExpr": "replace(datum.label, '\u2212', '-')", "title": "Coefficient estimate", "domain": true, "domainColor": "#595959", "domainWidth": 1.5, "labelPadding": 10, "titlePadding": 6}}}},
          {"mark": {"type": "line", "color": "#595959", "strokeWidth": 1.5}, "encoding": {"x": {"field": "t", "type": "ordinal", "sort": null}, "y": {"field": "est", "type": "quantitative", "scale": {"domain": [-0.4, 0.05], "nice": false, "zero": false}, "axis": {"values": [-0.4, -0.35, -0.3, -0.25, -0.2, -0.15, -0.1, -0.05, 0, 0.05], "format": ".3f", "labelExpr": "replace(datum.label, '\u2212', '-')", "title": "Coefficient estimate", "domain": true, "domainColor": "#595959", "domainWidth": 1.5, "labelPadding": 10, "titlePadding": 6}}}},
          {"mark": {"type": "point", "shape": "M-1,-1L1,1M-1,1L1,-1", "filled": false, "color": "#c8c8c8", "size": 45, "strokeWidth": 1, "opacity": 1}, "encoding": {"x": {"field": "t", "type": "ordinal", "sort": null}, "y": {"field": "est", "type": "quantitative", "scale": {"domain": [-0.4, 0.05], "nice": false, "zero": false}, "axis": {"values": [-0.4, -0.35, -0.3, -0.25, -0.2, -0.15, -0.1, -0.05, 0, 0.05], "format": ".3f", "labelExpr": "replace(datum.label, '\u2212', '-')", "title": "Coefficient estimate", "domain": true, "domainColor": "#595959", "domainWidth": 1.5, "labelPadding": 10, "titlePadding": 6}}}}
        ]},
        {"data": {"values": [{"u": 0.5}]}, "mark": {"type": "point", "opacity": 0}, "encoding": {"x": {"field": "u", "type": "quantitative", "scale": {"domain": [0, 1], "range": [-71, 400]}, "axis": {"orient": "top", "domain": true, "domainOpacity": 0, "domainWidth": 1.5, "labels": false, "ticks": false, "grid": false, "title": null, "offset": 12}}}}
      ]
    },
    {
      "width": 381, "height": 239,
      "title": {"text": "90th Percentile", "dx": -75, "offset": 3},
      "data": {"name": "L5"},
      "resolve": {"scale": {"x": "independent"}, "axis": {"x": "independent"}},
      "layer": [
        {"layer": [
          {"mark": {"type": "rule", "color": "#404040", "strokeWidth": 1.5}, "encoding": {"y": {"datum": 0, "type": "quantitative", "scale": {"domain": [-0.04, 0.08], "nice": false, "zero": false}, "axis": {"values": [-0.04, -0.02, 0, 0.02, 0.04, 0.06, 0.08], "format": ".3f", "labelExpr": "replace(datum.label, '\u2212', '-')", "title": "Coefficient estimate", "domain": true, "domainColor": "#404040", "domainWidth": 1.5, "labelPadding": 11, "titlePadding": 6}}}},
          {"mark": {"type": "rule", "color": "#404040", "strokeWidth": 1.5, "clip": true}, "encoding": {"x": {"field": "t", "type": "ordinal", "sort": null, "scale": {"type": "point", "padding": 0.5, "domain": ["-4", "-3", "-2", "-1", "0", "1", "2", "3", "4", "5+"]}, "axis": {"title": "No of years before and after birth of child", "domain": false, "ticks": false, "labelPadding": 10, "titlePadding": 6, "labelAngle": 0}}, "y": {"field": "lo", "type": "quantitative", "scale": {"domain": [-0.04, 0.08], "nice": false, "zero": false}, "axis": {"values": [-0.04, -0.02, 0, 0.02, 0.04, 0.06, 0.08], "format": ".3f", "labelExpr": "replace(datum.label, '\u2212', '-')", "title": "Coefficient estimate", "domain": true, "domainColor": "#404040", "domainWidth": 1.5, "labelPadding": 11, "titlePadding": 6}}, "y2": {"field": "hi"}}},
          {"mark": {"type": "tick", "color": "#404040", "size": 6, "thickness": 1.5, "orient": "horizontal", "clip": true}, "encoding": {"x": {"field": "t", "type": "ordinal", "sort": null}, "y": {"field": "lo", "type": "quantitative", "scale": {"domain": [-0.04, 0.08], "nice": false, "zero": false}, "axis": {"values": [-0.04, -0.02, 0, 0.02, 0.04, 0.06, 0.08], "format": ".3f", "labelExpr": "replace(datum.label, '\u2212', '-')", "title": "Coefficient estimate", "domain": true, "domainColor": "#404040", "domainWidth": 1.5, "labelPadding": 11, "titlePadding": 6}}}},
          {"mark": {"type": "tick", "color": "#404040", "size": 6, "thickness": 1.5, "orient": "horizontal", "clip": true}, "encoding": {"x": {"field": "t", "type": "ordinal", "sort": null}, "y": {"field": "hi", "type": "quantitative", "scale": {"domain": [-0.04, 0.08], "nice": false, "zero": false}, "axis": {"values": [-0.04, -0.02, 0, 0.02, 0.04, 0.06, 0.08], "format": ".3f", "labelExpr": "replace(datum.label, '\u2212', '-')", "title": "Coefficient estimate", "domain": true, "domainColor": "#404040", "domainWidth": 1.5, "labelPadding": 11, "titlePadding": 6}}}},
          {"mark": {"type": "line", "color": "#c0c0c0", "strokeWidth": 1.5}, "encoding": {"x": {"field": "t", "type": "ordinal", "sort": null}, "y": {"field": "est", "type": "quantitative", "scale": {"domain": [-0.04, 0.08], "nice": false, "zero": false}, "axis": {"values": [-0.04, -0.02, 0, 0.02, 0.04, 0.06, 0.08], "format": ".3f", "labelExpr": "replace(datum.label, '\u2212', '-')", "title": "Coefficient estimate", "domain": true, "domainColor": "#404040", "domainWidth": 1.5, "labelPadding": 11, "titlePadding": 6}}}},
          {"mark": {"type": "point", "shape": "M-1,-1L1,1M-1,1L1,-1", "filled": false, "color": "#a8a8a8", "size": 45, "strokeWidth": 1, "opacity": 1}, "encoding": {"x": {"field": "t", "type": "ordinal", "sort": null}, "y": {"field": "est", "type": "quantitative", "scale": {"domain": [-0.04, 0.08], "nice": false, "zero": false}, "axis": {"values": [-0.04, -0.02, 0, 0.02, 0.04, 0.06, 0.08], "format": ".3f", "labelExpr": "replace(datum.label, '\u2212', '-')", "title": "Coefficient estimate", "domain": true, "domainColor": "#404040", "domainWidth": 1.5, "labelPadding": 11, "titlePadding": 6}}}}
        ]},
        {"data": {"values": [{"u": 0.5}]}, "mark": {"type": "point", "opacity": 0}, "encoding": {"x": {"field": "u", "type": "quantitative", "scale": {"domain": [0, 1], "range": [-75, 388]}, "axis": {"orient": "top", "domain": true, "domainColor": "#bfbfbf", "domainWidth": 1.5, "labels": false, "ticks": false, "grid": false, "title": null, "offset": 12}}}}
      ]
    },
    {
      "width": 402, "height": 225,
      "title": {"text": "90th Percentile", "dx": -70, "offset": 3},
      "data": {"name": "R5"},
      "resolve": {"scale": {"x": "independent"}, "axis": {"x": "independent"}},
      "layer": [
        {"layer": [
          {"mark": {"type": "rule", "color": "#808080", "strokeWidth": 2}, "encoding": {"y": {"datum": 0, "type": "quantitative", "scale": {"domain": [-0.4, 0.05], "nice": false, "zero": false}, "axis": {"values": [-0.4, -0.35, -0.3, -0.25, -0.2, -0.15, -0.1, -0.05, 0, 0.05], "format": ".3f", "labelExpr": "replace(datum.label, '\u2212', '-')", "title": "Coefficient estimate", "domain": true, "domainColor": "#595959", "domainWidth": 1.5, "labelPadding": 10, "titlePadding": 6}}}},
          {"mark": {"type": "rule", "color": "#404040", "strokeWidth": 1.5, "clip": true}, "encoding": {"x": {"field": "t", "type": "ordinal", "sort": null, "scale": {"type": "point", "padding": 0.5, "domain": ["-4", "-3", "-2", "-1", "0", "1", "2", "3", "4", "5+"]}, "axis": {"title": "No of years before and after unemployment", "domain": false, "ticks": false, "labelPadding": 10, "titlePadding": 5, "labelAngle": 0}}, "y": {"field": "lo", "type": "quantitative", "scale": {"domain": [-0.4, 0.05], "nice": false, "zero": false}, "axis": {"values": [-0.4, -0.35, -0.3, -0.25, -0.2, -0.15, -0.1, -0.05, 0, 0.05], "format": ".3f", "labelExpr": "replace(datum.label, '\u2212', '-')", "title": "Coefficient estimate", "domain": true, "domainColor": "#595959", "domainWidth": 1.5, "labelPadding": 10, "titlePadding": 6}}, "y2": {"field": "hi"}}},
          {"mark": {"type": "tick", "color": "#404040", "size": 6, "thickness": 1.5, "orient": "horizontal", "clip": true}, "encoding": {"x": {"field": "t", "type": "ordinal", "sort": null}, "y": {"field": "lo", "type": "quantitative", "scale": {"domain": [-0.4, 0.05], "nice": false, "zero": false}, "axis": {"values": [-0.4, -0.35, -0.3, -0.25, -0.2, -0.15, -0.1, -0.05, 0, 0.05], "format": ".3f", "labelExpr": "replace(datum.label, '\u2212', '-')", "title": "Coefficient estimate", "domain": true, "domainColor": "#595959", "domainWidth": 1.5, "labelPadding": 10, "titlePadding": 6}}}},
          {"mark": {"type": "tick", "color": "#404040", "size": 6, "thickness": 1.5, "orient": "horizontal", "clip": true}, "encoding": {"x": {"field": "t", "type": "ordinal", "sort": null}, "y": {"field": "hi", "type": "quantitative", "scale": {"domain": [-0.4, 0.05], "nice": false, "zero": false}, "axis": {"values": [-0.4, -0.35, -0.3, -0.25, -0.2, -0.15, -0.1, -0.05, 0, 0.05], "format": ".3f", "labelExpr": "replace(datum.label, '\u2212', '-')", "title": "Coefficient estimate", "domain": true, "domainColor": "#595959", "domainWidth": 1.5, "labelPadding": 10, "titlePadding": 6}}}},
          {"mark": {"type": "line", "color": "#595959", "strokeWidth": 1.5}, "encoding": {"x": {"field": "t", "type": "ordinal", "sort": null}, "y": {"field": "est", "type": "quantitative", "scale": {"domain": [-0.4, 0.05], "nice": false, "zero": false}, "axis": {"values": [-0.4, -0.35, -0.3, -0.25, -0.2, -0.15, -0.1, -0.05, 0, 0.05], "format": ".3f", "labelExpr": "replace(datum.label, '\u2212', '-')", "title": "Coefficient estimate", "domain": true, "domainColor": "#595959", "domainWidth": 1.5, "labelPadding": 10, "titlePadding": 6}}}},
          {"mark": {"type": "point", "shape": "M-1,-1L1,1M-1,1L1,-1", "filled": false, "color": "#c8c8c8", "size": 45, "strokeWidth": 1, "opacity": 1}, "encoding": {"x": {"field": "t", "type": "ordinal", "sort": null}, "y": {"field": "est", "type": "quantitative", "scale": {"domain": [-0.4, 0.05], "nice": false, "zero": false}, "axis": {"values": [-0.4, -0.35, -0.3, -0.25, -0.2, -0.15, -0.1, -0.05, 0, 0.05], "format": ".3f", "labelExpr": "replace(datum.label, '\u2212', '-')", "title": "Coefficient estimate", "domain": true, "domainColor": "#595959", "domainWidth": 1.5, "labelPadding": 10, "titlePadding": 6}}}}
        ]},
        {"data": {"values": [{"u": 0.5}]}, "mark": {"type": "point", "opacity": 0}, "encoding": {"x": {"field": "u", "type": "quantitative", "scale": {"domain": [0, 1], "range": [-71, 400]}, "axis": {"orient": "top", "domain": true, "domainOpacity": 0, "domainWidth": 1.5, "labels": false, "ticks": false, "grid": false, "title": null, "offset": 12}}}}
      ]
    }
  ],
  "config": {
    "view": {"stroke": null},
    "font": "Lato",
    "axis": {"labelFont": "Lato", "titleFont": "Lato", "labelColor": "#595959", "titleColor": "#404040", "labelFontSize": 10.5, "titleFontSize": 14.5, "titleFontWeight": "normal", "grid": false, "ticks": false, "labelOverlap": false},
    "title": {"font": "Lato", "anchor": "start", "frame": "group", "color": "#000000", "fontSize": 27, "fontWeight": "bold"}
  }
}
